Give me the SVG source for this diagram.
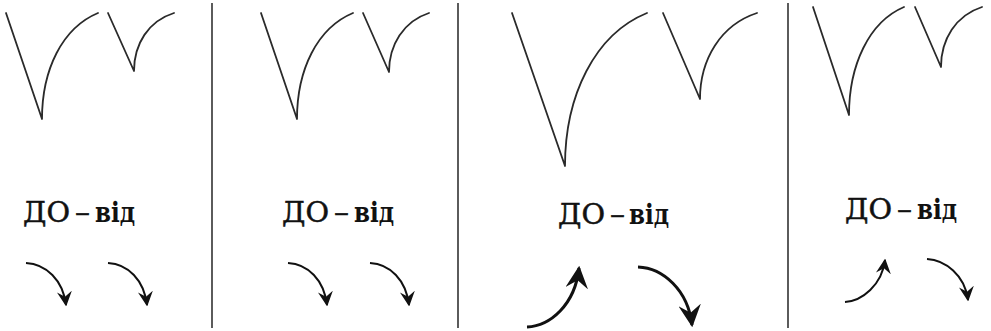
<svg xmlns="http://www.w3.org/2000/svg" width="991" height="331" viewBox="0 0 991 331">
<style>
.v{fill:none;stroke:#2a2a2a;stroke-width:1.8;stroke-linecap:round;stroke-linejoin:round}
.div{stroke:#333;stroke-width:1.6}
.lbl{font-family:'DejaVu Serif','Liberation Serif',serif;font-size:27px;fill:#111}
.r{stroke:#111;stroke-width:0.5}
.b{font-weight:bold}
.arr{fill:none;stroke:#111;stroke-width:2;marker-end:url(#ah)}
.arr3{fill:none;stroke:#111;stroke-width:3;marker-end:url(#ah)}
</style>
<defs>
<marker id="ah" viewBox="0 0 10 10" refX="9" refY="5" markerWidth="7.5" markerHeight="7.5" markerUnits="strokeWidth" orient="auto">
<path d="M0,0 L10,5 L0,10 L3.5,5 z" fill="#111"/>
</marker>
</defs>
<rect width="991" height="331" fill="#fff"/>
<g id="dividers">
<line class="div" x1="212" y1="3" x2="212" y2="328"/>
<line class="div" x1="458" y1="3" x2="458" y2="328"/>
<line class="div" x1="788" y1="3" x2="788" y2="328"/>
</g>
<g id="panel1">
<path class="v" d="M6,13 L42,119 C42,70 62,28 98,13"/>
<path class="v" d="M108,13 L134,71 C134,44 148.4,21 174,13"/>
<text class="lbl r" x="23" y="222" textLength="47" lengthAdjust="spacingAndGlyphs">ДО</text>
<text class="lbl r" x="75" y="222" textLength="15" lengthAdjust="spacingAndGlyphs">–</text>
<text class="lbl b" x="95" y="222" textLength="40" lengthAdjust="spacingAndGlyphs">від</text>
</g>
<g id="panel2">
<path class="v" d="M261,13 L297,119 C297,70 317,28 353,13"/>
<path class="v" d="M363,13 L389,72 C389,45 403.4,21.3 429,13"/>
<text class="lbl r" x="282" y="222" textLength="47" lengthAdjust="spacingAndGlyphs">ДО</text>
<text class="lbl r" x="334" y="222" textLength="15" lengthAdjust="spacingAndGlyphs">–</text>
<text class="lbl b" x="354" y="222" textLength="40" lengthAdjust="spacingAndGlyphs">від</text>
</g>
<g id="panel3">
<path class="v" d="M512,13 L565,166 C565,96 594.5,34.4 647,13"/>
<path class="v" d="M663,13 L700,99 C700,59.4 720.5,25 757,13"/>
<text class="lbl r" x="558" y="224" textLength="47" lengthAdjust="spacingAndGlyphs">ДО</text>
<text class="lbl r" x="610" y="224" textLength="15" lengthAdjust="spacingAndGlyphs">–</text>
<text class="lbl b" x="629" y="224" textLength="40" lengthAdjust="spacingAndGlyphs">від</text>
</g>
<g id="panel4">
<path class="v" d="M813,7 L849,115 C849,65.3 868.8,22 904,7"/>
<path class="v" d="M915,7 L941,67 C941,39.4 955.8,15.4 982,7"/>
<text class="lbl r" x="845" y="219" textLength="47" lengthAdjust="spacingAndGlyphs">ДО</text>
<text class="lbl r" x="897" y="219" textLength="15" lengthAdjust="spacingAndGlyphs">–</text>
<text class="lbl b" x="917" y="219" textLength="40" lengthAdjust="spacingAndGlyphs">від</text>
</g>
<g id="arrows">
<path class="arr" d="M26,263 C46,264 63,280 66,305"/>
<path class="arr" d="M108,263 C128,264 144,280 147,305"/>
<path class="arr" d="M288,263 C308,264 324,280 327,305"/>
<path class="arr" d="M370,263 C390,264 406,280 409,305"/>
<path class="arr3" d="M527,327 C550,326 575,305 579,268"/>
<path class="arr3" d="M638,267 C663,268 688,290 692,325"/>
<path class="arr" d="M845,302 C862,301 882,285 885,260"/>
<path class="arr" d="M927,259 C945,260 965,275 968,300"/>
</g>
</svg>
